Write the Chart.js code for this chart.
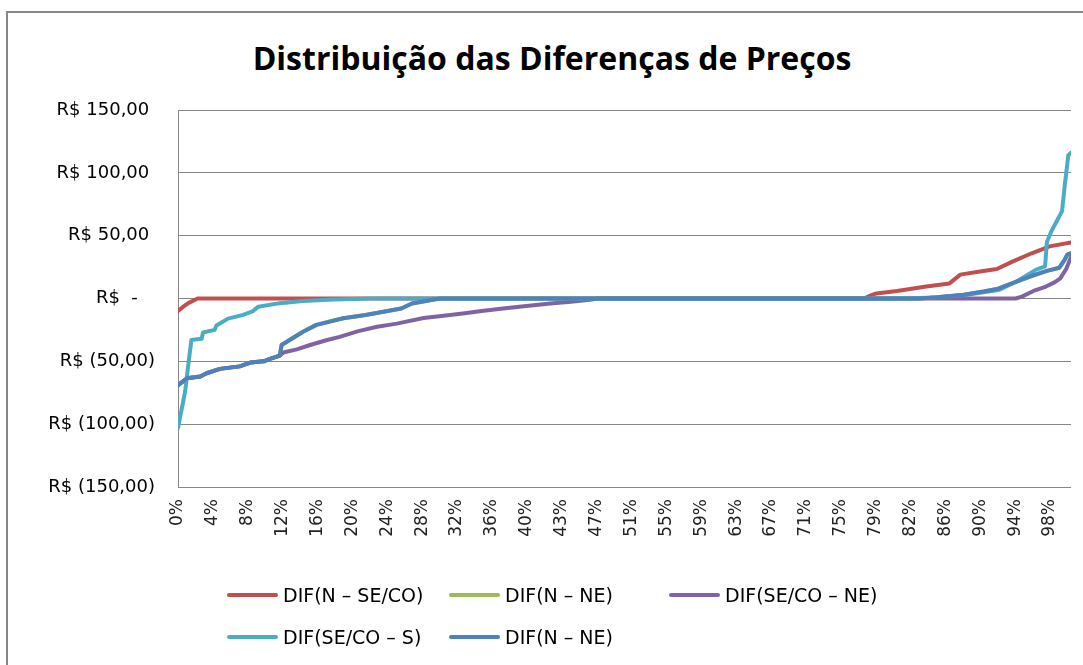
<!DOCTYPE html>
<html>
<head>
<meta charset="utf-8">
<title>Distribuição das Diferenças de Preços</title>
<script src="https://cdn.jsdelivr.net/npm/chart.js@4.4.0/dist/chart.umd.min.js"></script>
<style>
  html, body { margin: 0; padding: 0; background: #fff; }
  body { width: 1083px; height: 665px; position: relative; overflow: hidden; font-family: 'DejaVu Sans', sans-serif; }
  #frame { position: absolute; left: 6px; top: 11px; width: 1110px; height: 700px; border: 2px solid #878787; box-sizing: border-box; }
  #chartTitle { position: absolute; left: 0; top: 42px; width: 1104px; text-align: center; font-family: 'Open Sans', sans-serif; font-weight: 700; font-size: 32px; line-height: 1; color: #000; }
  #chartBox { position: absolute; left: 0; top: 0; }
  .legend-item { position: absolute; display: flex; align-items: center; height: 24px; font-size: 19px; color: #000; white-space: nowrap; }
  .legend-line { width: 51px; height: 4px; border-radius: 2px; margin-right: 5px; }
</style>
</head>
<body>
<div id="frame"></div>
<div id="chartTitle">Distribuição das Diferenças de Preços</div>
<canvas id="chartBox" width="1083" height="665"></canvas>
<div id="legend"></div>
<script>
// rótulos do eixo X (percentil)
const tickLabels = ['0%', '4%', '8%', '12%', '16%', '20%', '24%', '28%', '32%', '36%', '40%', '43%', '47%',
  '51%', '55%', '59%', '63%', '67%', '71%', '75%', '79%', '82%', '86%', '90%', '94%', '98%'];
const tickStep = 3.906;

const seriesNames = ['DIF(N – SE/CO)', 'DIF(N – NE)', 'DIF(SE/CO – NE)', 'DIF(SE/CO – S)', 'DIF(N – NE)'];
const seriesColors = ['#C0504D', '#9BBB59', '#8064A2', '#4BACC6', '#4F81BD'];

// DIF(N – SE/CO)
const xNSeCo = [0, 0.6, 1.2, 2.2, 76.8, 77.6, 78.2, 80.5, 83.8, 86.4, 87.6, 89.8, 91.7, 93.5, 95.6, 97.6, 100];
const yNSeCo = [-10, -6.5, -3.5, 0, 0, 2.5, 4, 6, 9.5, 12, 19, 21.5, 23.5, 29.5, 36, 41.5, 44.5];

// DIF(N – NE)
const xNNe = [0, 1, 2.5, 3.2, 4.7, 6.9, 8.1, 9.6, 10.3, 11.4, 11.6, 12.5, 14, 15.5, 18.5, 21, 25, 26.2, 29.3,
  83, 85, 88, 90.2, 91.7, 93.9, 95.4, 97.3, 98.7, 99.3, 99.6, 100];
const yNNe = [-69, -63.5, -62, -59.5, -56, -54, -51, -50, -48, -45.5, -37, -33, -26.5, -21, -15.7, -13.2, -8, -4, 0,
  0, 1, 3, 5.5, 7.5, 13.5, 17.5, 22, 24.5, 31, 35, 36];

// DIF(SE/CO – NE)
const xSeCoNe = [0, 1, 2.5, 3.2, 4.7, 6.9, 8.1, 9.6, 10.3, 11.4, 11.8, 13.3, 14.8, 16.7, 18.1, 20.2, 22.3, 24.5,
  27.5, 29.5, 31.9, 34, 36.4, 39, 41.7, 44, 46.1, 47, 93.8, 94.5, 95.8, 97.2, 98.2, 98.8, 99.5, 100];
const ySeCoNe = [-69, -63.5, -62, -59.5, -56, -54, -51, -50, -48, -45.5, -43, -40.5, -37, -33, -30.5, -26, -22.5, -20,
  -15.5, -14, -12, -10, -8, -6, -4, -2.5, -1, 0, 0, 1.5, 6, 9.5, 13, 16, 24, 33];

// DIF(SE/CO – S)
const xSeCoS = [0, 0.8, 1.15, 1.5, 2.65, 2.8, 4.1, 4.3, 5.6, 7.3, 8.4, 9.0, 11.4, 14.0, 17.5, 21.5,
  80, 84, 88, 90.2, 92.0, 93.9, 96.1, 97.1, 97.3, 97.8, 98.4, 99.0, 99.3, 99.7, 100];
const ySeCoS = [-103, -74, -53, -33, -32, -27, -25, -21.5, -16, -13, -10, -6.5, -3.7, -1.9, -0.7, 0,
  0, 0.5, 2.5, 5, 7, 13.5, 23, 25.5, 45, 53.5, 61.5, 69.5, 90, 114, 116];

const seriesX = [xNSeCo, xNNe, xSeCoNe, xSeCoS, xNNe];
const seriesY = [yNSeCo, yNNe, ySeCoNe, ySeCoS, yNNe];

function fmtReais(v) {
  if (v === 0) return 'R$  -   ';
  const s = Math.abs(v).toFixed(2).replace('.', ',');
  return v > 0 ? 'R$ ' + s + ' ' : 'R$ (' + s + ')';
}

const datasets = seriesNames.map((name, i) => ({
  label: name,
  data: seriesX[i].map((x, j) => ({ x: x, y: seriesY[i][j] })),
  borderColor: seriesColors[i],
  backgroundColor: seriesColors[i],
  borderWidth: 4,
  pointRadius: 0,
  tension: 0,
  fill: false,
  borderJoinStyle: 'round',
  borderCapStyle: 'round',
  order: seriesNames.length - i   // último série desenhada por cima, como no Excel
}));

const ctx = document.getElementById('chartBox').getContext('2d');
const chart = new Chart(ctx, {
  type: 'line',
  data: { datasets: datasets },
  options: {
    responsive: false,
    animation: false,
    devicePixelRatio: 1,
    layout: { padding: { top: 110, right: 12, bottom: 0, left: 0 } },
    plugins: {
      legend: { display: false },
      title: { display: false },
      tooltip: { enabled: false }
    },
    scales: {
      x: {
        type: 'linear',
        min: 0,
        max: 100,
        afterBuildTicks: (scale) => {
          scale.ticks = tickLabels.map((l, i) => ({ value: i * tickStep }));
        },
        afterFit: (scale) => { scale.height = 178; },
        grid: { display: false, drawTicks: false },
        border: { display: false },
        ticks: {
          autoSkip: false,
          minRotation: 90,
          maxRotation: 90,
          padding: 12,
          color: '#222',
          font: { family: 'DejaVu Sans', size: 17 },
          callback: (v, i) => tickLabels[i]
        }
      },
      y: {
        min: -150,
        max: 150,
        afterFit: (scale) => { scale.width = 178; },
        grid: { color: '#868686', lineWidth: 1, drawTicks: false },
        border: { display: true, color: '#868686', width: 1 },
        ticks: {
          stepSize: 50,
          padding: 23,
          color: '#000',
          font: { family: 'DejaVu Sans', size: 18 },
          callback: (v) => fmtReais(v)
        }
      }
    }
  }
});

// legenda em grade, como no Excel
const legendPos = [[227, 583], [449, 583], [669, 583], [227, 625], [449, 625]];
const legendBox = document.getElementById('legend');
chart.data.datasets.forEach((ds, i) => {
  const item = document.createElement('div');
  item.className = 'legend-item';
  item.style.left = legendPos[i][0] + 'px';
  item.style.top = legendPos[i][1] + 'px';
  item.innerHTML = '<span class="legend-line" style="background:' + ds.borderColor + '"></span>' + ds.label;
  legendBox.appendChild(item);
});
</script>
</body>
</html>
